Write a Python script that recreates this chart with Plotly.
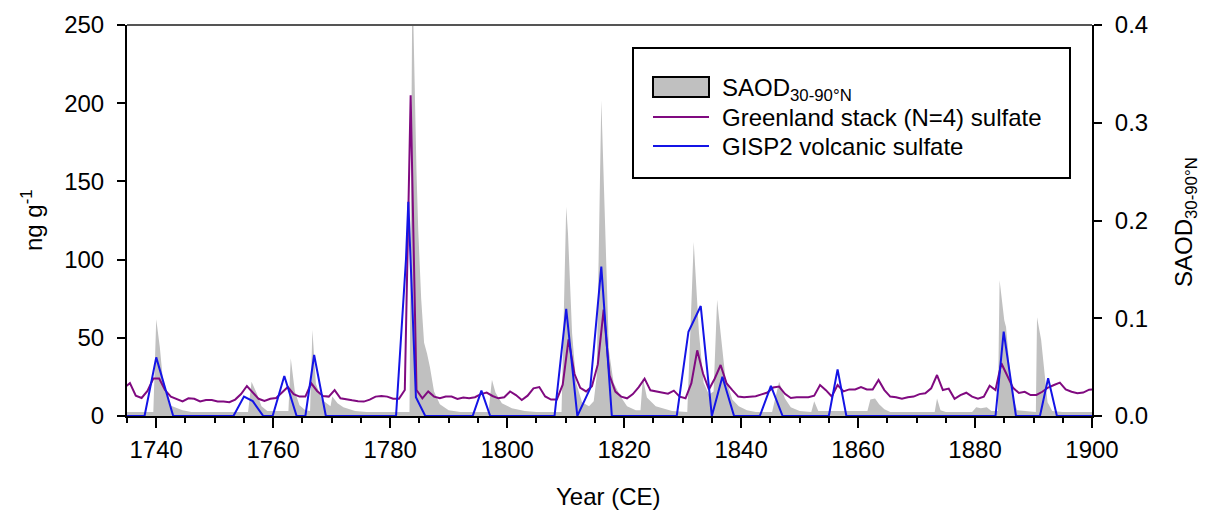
import plotly.graph_objects as go

# ---------------- data ----------------
# SAOD 30-90N (right axis), breakpoints of the grey area
saod_year = [1735.0, 1739.5, 1740.0, 1740.6, 1741.2, 1742.3, 1744.5, 1746.0,
             1755.7, 1756.3, 1757.2, 1758.0, 1759.0,
             1762.6, 1763.0, 1763.7, 1764.5, 1765.5,
             1766.3, 1766.7, 1767.3, 1768.3, 1769.8, 1770.1, 1771.0, 1772.0, 1774.0, 1776.0,
             1783.3, 1783.8, 1784.5, 1784.8, 1785.3, 1785.8, 1786.3, 1786.8, 1787.5, 1788.5, 1790.0, 1792.0,
             1796.8, 1797.4, 1798.0, 1799.1, 1800.8, 1803.0, 1805.0,
             1809.3, 1810.1, 1810.4, 1811.1, 1811.8, 1812.8, 1814.0, 1814.8, 1815.3,
             1816.1, 1816.8, 1817.4, 1818.2, 1819.4, 1820.5, 1822.0,
             1822.8, 1823.2, 1823.9, 1825.4, 1828.2,
             1830.8, 1831.9, 1832.8, 1833.6, 1834.5, 1835.3, 1835.9, 1836.5, 1837.3, 1838.5, 1839.6, 1841.0, 1842.5,
             1845.3, 1846.5, 1847.5, 1848.5, 1850.0,
             1852.0, 1852.5, 1853.2,
             1861.6, 1862.1, 1862.9, 1863.6, 1864.5, 1865.5,
             1873.1, 1873.5, 1874.1, 1875.0,
             1879.5, 1880.2, 1881.0, 1882.0, 1882.8,
             1883.9, 1884.2, 1885.0, 1885.3, 1885.9, 1886.6, 1887.2,
             1890.4, 1890.6, 1891.3, 1891.9, 1892.4, 1893.2, 1895.0, 1900.0]
saod_val = [0.004, 0.004, 0.099, 0.071, 0.033, 0.011, 0.006, 0.004,
            0.004, 0.035, 0.023, 0.010, 0.005,
            0.005, 0.059, 0.025, 0.011, 0.006,
            0.005, 0.088, 0.033, 0.017, 0.010, 0.020, 0.013, 0.009, 0.005, 0.004,
            0.004, 0.450, 0.250, 0.190, 0.120, 0.075, 0.064, 0.050, 0.025, 0.012, 0.006, 0.004,
            0.004, 0.037, 0.024, 0.013, 0.008, 0.005, 0.004,
            0.004, 0.214, 0.187, 0.085, 0.034, 0.014, 0.010, 0.015, 0.040,
            0.323, 0.187, 0.067, 0.034, 0.020, 0.010, 0.006,
            0.006, 0.039, 0.019, 0.010, 0.005,
            0.004, 0.178, 0.085, 0.034, 0.022, 0.025, 0.119, 0.085, 0.040, 0.017, 0.010, 0.006, 0.004,
            0.004, 0.035, 0.018, 0.009, 0.005,
            0.004, 0.015, 0.005,
            0.005, 0.017, 0.018, 0.012, 0.007, 0.004,
            0.004, 0.018, 0.006, 0.004,
            0.004, 0.009, 0.008, 0.009, 0.005,
            0.005, 0.139, 0.098, 0.091, 0.050, 0.017, 0.006,
            0.004, 0.101, 0.078, 0.040, 0.014, 0.005, 0.004, 0.004]

# Greenland stack (N=4) sulfate, ng/g, mid-year values from 1734.5 to 1900.5
greenland_start = 1734.5
greenland_val = [
    18, 21, 13, 11.5, 16, 24,                                   # 1734.5-1739.5
    24, 16.6, 12.4, 11, 9.3, 11.3, 11, 9.3, 10.2, 10.2,         # 1740s
    9.3, 9.2, 8.8, 10.5, 14, 19.2, 15, 11, 9.6, 11,             # 1750s
    11.5, 15, 18.5, 14, 12.4, 12.4, 20.9, 16, 12.8, 12.4,       # 1760s
    16.5, 11.3, 10.5, 10, 9.5, 9.2, 10.5, 12.4, 12.8, 12.4,     # 1770s
    11, 11, 16.6, 205, 16.6, 11.3, 15.7, 12.4, 11.3, 12.4,      # 1780s
    12.4, 10.9, 11.8, 11.3, 12, 14, 15, 12.8, 11.3, 12,         # 1790s
    15.7, 13.4, 10.2, 13, 17.7, 18.5, 12.5, 10.5, 10.5, 20,     # 1800s
    49, 27, 18, 15.7, 19, 33, 68, 26, 15.6, 12.4,               # 1810s
    11.3, 14, 18.5, 23.9, 16.4, 15.6, 15, 14.3, 16.2, 12.4,     # 1820s
    11.3, 21, 42, 27, 17, 24, 32.6, 21, 16.6, 12.4,             # 1830s
    12, 12.3, 12.6, 13.8, 15, 18.2, 18.8, 14.2, 11.5, 12,       # 1840s
    12, 12, 13, 19.8, 16.5, 12.5, 19.8, 15.7, 17, 17,           # 1850s
    18.5, 17, 17, 23, 16.6, 12.4, 12, 11, 12, 12.4,             # 1860s
    14, 14.5, 17.7, 26.2, 16.6, 17.5, 11, 13.4, 14.9, 12.4,     # 1870s
    11, 12.4, 19.4, 16.6, 33.7, 26, 18, 14.7, 15.5, 13.4,       # 1880s
    13.5, 15.5, 18.2, 19.8, 21.3, 17, 15.5, 14.6, 15, 16.8, 17, # 1890.5-1900.5
]
greenland_year = [greenland_start + i for i in range(len(greenland_val))]

# GISP2 volcanic sulfate, ng/g
gisp2_year = [1735.0, 1738.0, 1740.0, 1742.9, 1753.2, 1755.0, 1756.5, 1758.3,
              1759.9, 1761.9, 1764.0, 1765.5, 1767.0, 1769.0,
              1781.0, 1782.7, 1783.1, 1784.4, 1786.0,
              1794.1, 1795.6, 1797.1,
              1808.1, 1810.1, 1812.0, 1814.2, 1816.1, 1817.9,
              1829.0, 1831.0, 1833.1, 1835.0, 1836.8, 1838.8,
              1843.2, 1845.1, 1847.1, 1855.0, 1856.5, 1858.0,
              1883.5, 1884.9, 1887.0, 1891.1, 1892.5, 1894.0, 1900.0]
gisp2_val = [0, 0, 37.5, 0, 0, 12.4, 9.5, 0,
             0, 25.6, 0, 0, 39, 0,
             0, 100, 137, 12, 0,
             0, 16.2, 0,
             0, 68.5, 0, 17.7, 95.5, 0,
             0, 53.9, 70.3, 0, 25.1, 0,
             0, 19.2, 0, 0, 29.8, 0,
             0, 53.9, 0, 0, 24.1, 0, 0]

left_ticks = [0, 50, 100, 150, 200, 250]
right_ticks = [0.0, 0.1, 0.2, 0.3, 0.4]
x_ticks = [1740, 1760, 1780, 1800, 1820, 1840, 1860, 1880, 1900]

# ---------------- styling ----------------
FONT = "Arial, 'Liberation Sans', sans-serif"
W, H = 1207, 517
PL, PR, PT, PB = 127, 1092, 25, 416   # plot-area pixel bounds
GREY = "#c0c0c0"
PURPLE = "#800a80"
BLUE = "#1414e6"


def px(xp):
    return (xp - PL) / (PR - PL)


def py(yp):
    return (PB - yp) / (PB - PT)


fig = go.Figure()
fig.add_trace(go.Scatter(x=saod_year, y=saod_val, yaxis="y", mode="lines",
                         fill="tozeroy", fillcolor=GREY, line=dict(width=0, color=GREY),
                         showlegend=False, hoverinfo="skip"))
fig.add_trace(go.Scatter(x=greenland_year, y=greenland_val, yaxis="y2", mode="lines",
                         line=dict(color=PURPLE, width=2), showlegend=False))
fig.add_trace(go.Scatter(x=gisp2_year, y=gisp2_val, yaxis="y2", mode="lines",
                         line=dict(color=BLUE, width=2), showlegend=False))

axis_common = dict(showgrid=False, zeroline=False, showline=True, linecolor="black",
                   linewidth=2, ticks="outside", tickcolor="black", tickwidth=2,
                   tickfont=dict(family=FONT, size=24, color="black"))

fig.update_layout(
    width=W, height=H,
    margin=dict(l=PL, r=W - PR, t=PT, b=H - PB, pad=0),
    paper_bgcolor="white", plot_bgcolor="white",
    font=dict(family=FONT, size=24, color="black"),
    xaxis=dict(range=[1735, 1900], tickvals=x_ticks, ticklen=10,
               ticklabelstandoff=1,
               minor=dict(dtick=5, tick0=1735, ticks="outside", ticklen=5,
                          tickwidth=1.5, tickcolor="black"),
               **axis_common),
    yaxis=dict(range=[0, 0.4], side="right", tickvals=right_ticks,
               tickformat=".1f", ticklen=8, ticklabelstandoff=8, **axis_common),
    yaxis2=dict(range=[0, 250], side="left", overlaying="y", anchor="x",
                tickvals=left_ticks, ticklen=8, ticklabelstandoff=8, **axis_common),
)

# top frame line
fig.add_shape(type="line", xref="paper", yref="paper", x0=0, x1=1, y0=1, y1=1,
              line=dict(color="#555555", width=2))

# axis titles
fig.add_annotation(text="Year (CE)", xref="paper", yref="paper", x=px(608), y=py(497),
                   showarrow=False, font=dict(size=24), xanchor="center", yanchor="middle")
fig.add_annotation(text="ng g<sup>-1</sup>", xref="paper", yref="paper", x=px(32), y=py(220),
                   showarrow=False, textangle=-90, font=dict(size=24),
                   xanchor="center", yanchor="middle")
fig.add_annotation(text="SAOD<sub>30-90°N</sub>", xref="paper", yref="paper", x=px(1185), y=py(222),
                   showarrow=False, textangle=-90, font=dict(size=24),
                   xanchor="center", yanchor="middle")

# custom legend
fig.add_shape(type="rect", xref="paper", yref="paper", x0=px(633), x1=px(1070),
              y0=py(178), y1=py(48), line=dict(color="black", width=2), fillcolor="white",
              layer="above")
fig.add_shape(type="rect", xref="paper", yref="paper", x0=px(653), x1=px(709),
              y0=py(97), y1=py(77), line=dict(color="black", width=2), fillcolor=GREY,
              layer="above")
fig.add_shape(type="line", xref="paper", yref="paper", x0=px(653), x1=px(709),
              y0=py(117), y1=py(117), line=dict(color=PURPLE, width=2), layer="above")
fig.add_shape(type="line", xref="paper", yref="paper", x0=px(653), x1=px(709),
              y0=py(146), y1=py(146), line=dict(color=BLUE, width=2), layer="above")
for label, yc in [("SAOD<sub>30-90°N</sub>", 90),
                  ("Greenland stack (N=4) sulfate", 117),
                  ("GISP2 volcanic sulfate", 146)]:
    fig.add_annotation(text=label, xref="paper", yref="paper", x=px(720), y=py(yc),
                       showarrow=False, xanchor="left", yanchor="middle",
                       font=dict(size=24))

fig.write_html("out.html")
